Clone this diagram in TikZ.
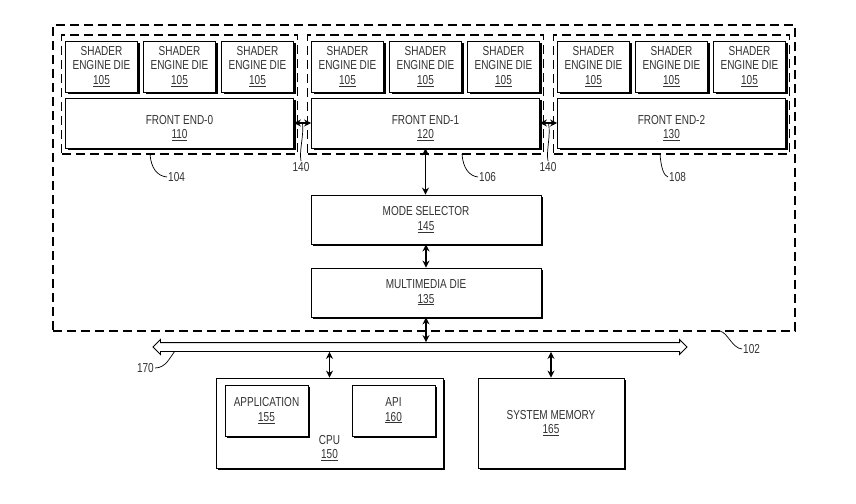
\documentclass[tikz,border=0pt]{standalone}
\usepackage{fontspec}
\setmainfont[FakeStretch=0.77]{Liberation Sans}
\usetikzlibrary{shapes.arrows,shadows,arrows.meta}

\begin{document}
\begin{tikzpicture}[x=1pt,y=-1pt,
    font=\fontsize{13}{14.5}\selectfont,
    diebox/.style={draw, line width=0.8pt, fill=white, align=center, text=black!80, inner sep=0pt,
      drop shadow={shadow xshift=2pt,shadow yshift=-2pt,fill=black,opacity=1}},
    grpbox/.style={draw, line width=1.3pt, dash pattern=on 9pt off 5pt, inner sep=0pt},
    link/.style={{Stealth[length=7pt,width=7pt]}-{Stealth[length=7pt,width=7pt]}, line width=1.4pt},
    leader/.style={line width=0.7pt},
    refnum/.style={text=black!80, inner sep=1pt}]
        \useasboundingbox (0,0) rectangle (856,503);

        \node[grpbox, minimum width=742pt, minimum height=306pt] (g102) at (424,178) {};          %102
        \foreach \g/\cx/\n/\fe in {0/179.5/104/110, 1/425.5/106/120, 2/671.5/108/130} {
          \node[grpbox, minimum width=236pt, minimum height=119pt] (g\n) at (\cx,94.5) {};        %group
          \foreach \i in {1,2,3}
            \node[diebox, minimum width=72pt, minimum height=51pt] (se\g\i) at (\cx+78*\i-156,66.5)
              {SHADER\\ENGINE DIE\\\underline{105}};                                              %105
          \node[diebox, minimum width=228pt, minimum height=50pt] (fe\g) at (\cx,123)
            {\rule{0pt}{19pt}FRONT END-\g\\\underline{\fe}};                                      %front end
        }

        \node[diebox, minimum width=230pt, minimum height=49pt] (mode) at (426,219.5) {MODE SELECTOR\\\underline{145}};
        \node[diebox, minimum width=230pt, minimum height=49pt] (mm)   at (426,292.5) {MULTIMEDIA DIE\\\underline{135}};

        \node[double arrow, draw, line width=0.9pt, fill=white, minimum height=534pt, minimum width=0pt,
              inner xsep=0pt, inner ysep=4pt, double arrow head extend=3pt] (bus) at (420,347) {};  %170

        \node[diebox, minimum width=227pt, minimum height=90pt] (cpu) at (329.5,423) {};          %150
        \node[text=black!80, align=center] (cpulbl) at (329.5,448) {CPU\\\underline{150}};
        \node[diebox, minimum width=83pt, minimum height=51pt] (app) at (266.5,410.5) {APPLICATION\\\underline{155}};
        \node[diebox, minimum width=83pt, minimum height=51pt] (api) at (393.5,410.5) {API\\\underline{160}};
        \node[diebox, minimum width=146pt, minimum height=90pt] (mem) at (551,423) {SYSTEM MEMORY\\\underline{165}};

        \draw[link] (fe0.east) -- coordinate[pos=.5] (m140a) (fe1.west);                          %140
        \draw[link] (fe1.east) -- coordinate[pos=.5] (m140b) (fe2.west);                          %140
        \draw[link] (fe1.south) -- (fe1.south |- mode.north);
        \draw[link] (mode.south) -- (mm.north);
        \draw[link] (mm.south) -- (mm.south |- bus.north);
        \draw[link] (bus.south -| cpu.north) -- (cpu.north);
        \draw[link] (bus.south -| mem.north) -- (mem.north);

        % reference numerals
        \node[refnum, anchor=west] (l104) at (167,177) {104};
        \node[refnum, anchor=west] (l106) at (478,177) {106};
        \node[refnum, anchor=west] (l108) at (668,177) {108};
        \node[refnum] (l140a) at (301,167) {140};
        \node[refnum] (l140b) at (548,167) {140};
        \node[refnum, anchor=east] (l170) at (155,368) {170};
        \node[refnum, anchor=west] (l102) at (742,349) {102};
        \coordinate (t104) at (150,154);
        \coordinate (t106) at (462,154);
        \coordinate (t108) at (660,154);
        \coordinate (t170) at (175,351);
        \coordinate (t102) at (720,331);
        \draw[leader] (t104) .. controls (151,168) and (157,176) .. (l104.west);
        \draw[leader] (t106) .. controls (463,168) and (469,176) .. (l106.west);
        \draw[leader] (t108) .. controls (661,168) and (664,176) .. (l108.west);
        \draw[leader] (l140a.north) .. controls (299,150) and (304,136) .. (m140a);
        \draw[leader] (l140b.north) .. controls (546,150) and (551,136) .. (m140b);
        \draw[leader] (l170.east) .. controls (166,368) and (170,357) .. (t170);
        \draw[leader] (t102) .. controls (728,333) and (732,348) .. (l102.west);
      \end{tikzpicture}
\end{document}
